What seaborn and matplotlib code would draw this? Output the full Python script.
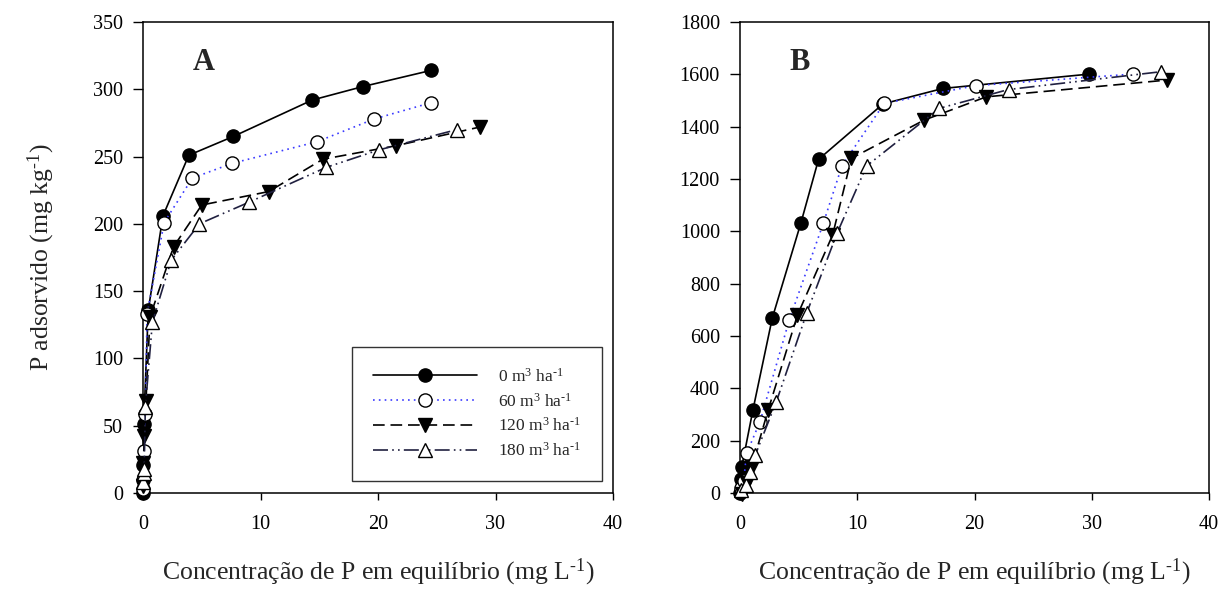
import matplotlib
matplotlib.use("Agg")
import matplotlib.pyplot as plt
import seaborn as sns
import numpy as np

# ---------------- data ----------------
labels = ["0 m$^3$ ha$^{‐1}$", "60 m$^3$ ha$^{‐1}$", "120 m$^3$ ha$^{‐1}$", "180 m$^3$ ha$^{‐1}$"]

# Panel A
a0_x = [0.0, 0.03, 0.06, 0.45, 1.7, 3.9, 7.7, 14.4, 18.7, 24.5]
a0_y = [0, 21, 51, 136, 206, 251, 265, 292, 302, 314]
a1_x = [0.0, 0.02, 0.08, 0.2, 0.35, 1.8, 4.2, 7.6, 14.8, 19.7, 24.5]
a1_y = [3, 10, 31, 59, 133, 201, 234, 245, 261, 278, 290]
a2_x = [0.0, 0.04, 0.1, 0.25, 0.6, 2.6, 5.0, 10.7, 15.3, 21.5, 28.7]
a2_y = [5, 22, 42, 68, 131, 183, 214, 224, 248, 258, 272]
a3_x = [0.0, 0.05, 0.1, 0.2, 0.8, 2.4, 4.8, 9.0, 15.6, 20.1, 26.7]
a3_y = [8, 15, 18, 64, 127, 173, 200, 216, 242, 255, 270]

# Panel B
b0_x = [0.0, 0.1, 0.15, 1.1, 2.75, 5.2, 6.7, 12.2, 17.3, 29.8]
b0_y = [0, 55, 100, 317, 668, 1033, 1275, 1487, 1546, 1601]
b1_x = [0.05, 0.3, 0.57, 1.7, 4.2, 7.1, 8.7, 12.3, 20.1, 33.5]
b1_y = [20, 45, 152, 272, 661, 1030, 1251, 1489, 1557, 1601]
b2_x = [0.2, 0.6, 1.0, 2.4, 4.9, 7.9, 9.5, 15.7, 21.0, 36.4]
b2_y = [-5, 40, 100, 317, 680, 986, 1279, 1425, 1514, 1578]
b3_x = [0.1, 0.5, 0.85, 1.3, 3.1, 5.7, 8.3, 10.8, 17.0, 22.9, 35.9]
b3_y = [10, 30, 81, 145, 349, 689, 995, 1250, 1470, 1542, 1610]

x_ticks = [0, 10, 20, 30, 40]
a_yticks = list(range(0, 351, 50))
b_yticks = list(range(0, 1801, 200))

# ---------------- style ----------------
sns.set_style("ticks")
plt.rcParams["font.family"] = ["Liberation Serif", "DejaVu Serif"]
plt.rcParams["mathtext.fontset"] = "custom"
plt.rcParams["mathtext.rm"] = "Liberation Serif"
plt.rcParams["mathtext.it"] = "Liberation Serif:italic"
plt.rcParams["mathtext.bf"] = "Liberation Serif:bold"

styles = [
    dict(color="black", linestyle="-", marker="o", markerfacecolor="black", markeredgecolor="black"),
    dict(color="#3a3aff", linestyle=(0, (1, 2.5)), marker="o", markerfacecolor="white", markeredgecolor="black"),
    dict(color="black", linestyle=(0, (7, 3.5)), marker="v", markerfacecolor="black", markeredgecolor="black"),
    dict(color="#202040", linestyle=(0, (9, 2.5, 1, 2.5, 1, 2.5)), marker="^", markerfacecolor="white", markeredgecolor="black"),
]

fig = plt.figure(figsize=(12.25, 5.9), dpi=100)
axA = fig.add_axes([143 / 1225, 97 / 590, 470 / 1225, 471 / 590])
axB = fig.add_axes([740 / 1225, 97 / 590, 469 / 1225, 471 / 590])

seriesA = [(a0_x, a0_y), (a1_x, a1_y), (a2_x, a2_y), (a3_x, a3_y)]
seriesB = [(b0_x, b0_y), (b1_x, b1_y), (b2_x, b2_y), (b3_x, b3_y)]

for ax, series in ((axA, seriesA), (axB, seriesB)):
    for (xs, ys), st, lab in zip(series, styles, labels):
        sns.lineplot(x=xs, y=ys, ax=ax, estimator=None, sort=False, label=lab,
                     linewidth=1.2, markersize=9.5, markeredgewidth=1.0,
                     clip_on=False, zorder=3, **st)

xlabel = "Concentração de P em equilíbrio (mg L$^{‐1}$)"
for ax, yt, ylim, letter in ((axA, a_yticks, 350, "A"), (axB, b_yticks, 1800, "B")):
    ax.set_xlim(0, 40)
    ax.set_ylim(0, ylim)
    ax.set_xticks(x_ticks)
    ax.set_yticks(yt)
    ax.tick_params(axis="y", direction="out", length=7.5, width=1, labelsize=14.5, pad=7, colors="black")
    ax.tick_params(axis="x", direction="out", length=5, width=1, labelsize=14.5, pad=11, colors="black")
    for sp in ax.spines.values():
        sp.set_visible(True)
        sp.set_linewidth(1.1)
        sp.set_color("black")
    ax.set_xlabel(xlabel, fontsize=18.5, labelpad=16)
    ax.text(0.105, 0.915, letter, transform=ax.transAxes, fontsize=22, fontweight="bold",
            ha="left", va="center")

axA.set_ylabel("P adsorvido (mg kg$^{‐1}$)", fontsize=18.5, labelpad=26)
axB.set_ylabel("")

axB.get_legend().remove()
leg = axA.legend(loc="upper right", bbox_to_anchor=(0.995, 0.329), fontsize=12.5,
                 handlelength=6.0, frameon=True, fancybox=False, edgecolor="black",
                 borderpad=1.2, labelspacing=0.4, handletextpad=1.2)
leg.get_frame().set_linewidth(1.0)

fig.savefig("out.png", dpi=100)
